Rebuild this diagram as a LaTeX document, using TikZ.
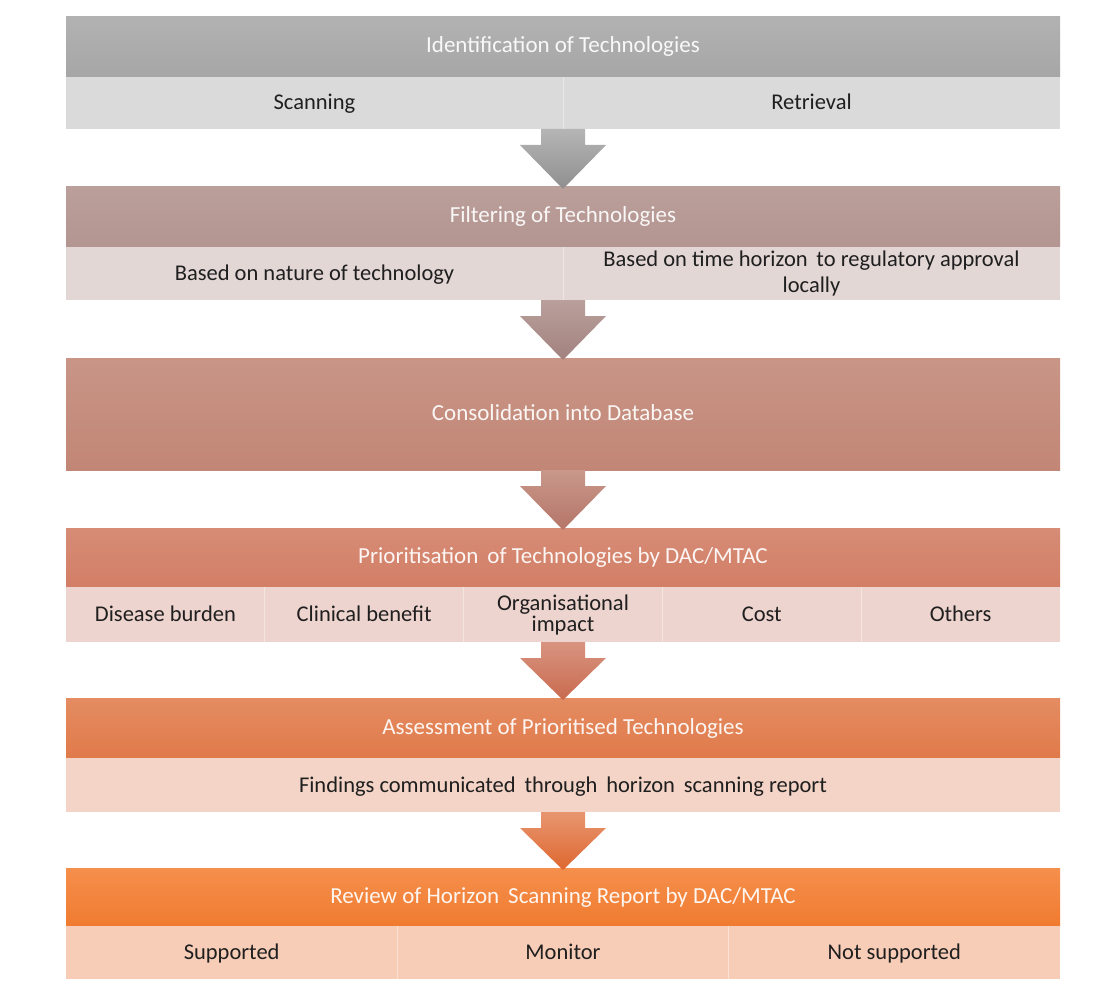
\documentclass[tikz,border=0pt]{standalone}
\usepackage{fontspec}
\setmainfont{Carlito}
\usetikzlibrary{calc,backgrounds}

% stage colours: header top / header bottom / cell fill / arrow top / arrow bottom
\definecolor{h1t}{HTML}{B2B2B2}\definecolor{h1b}{HTML}{A6A6A6}\definecolor{c1}{HTML}{DADADA}
\definecolor{h2t}{HTML}{BB9F9B}\definecolor{h2b}{HTML}{B39591}\definecolor{c2}{HTML}{E3D7D5}
\definecolor{h3t}{HTML}{C89586}\definecolor{h3b}{HTML}{C28676}
\definecolor{h4t}{HTML}{D68C76}\definecolor{h4b}{HTML}{D37E66}\definecolor{c4}{HTML}{EED4CE}
\definecolor{h5t}{HTML}{E48C62}\definecolor{h5b}{HTML}{E07A4A}\definecolor{c5}{HTML}{F3D4C6}
\definecolor{h6t}{HTML}{F58F4C}\definecolor{h6b}{HTML}{F07B30}\definecolor{c6}{HTML}{F8CDB8}
\definecolor{a1t}{HTML}{B5B5B5}\definecolor{a1b}{HTML}{8F8F8F}
\definecolor{a2t}{HTML}{B9A09C}\definecolor{a2b}{HTML}{A2817D}
\definecolor{a3t}{HTML}{C8988B}\definecolor{a3b}{HTML}{B57567}
\definecolor{a4t}{HTML}{D89480}\definecolor{a4b}{HTML}{C96A4E}
\definecolor{a5t}{HTML}{E89670}\definecolor{a5b}{HTML}{DE672F}

\begin{document}
\begin{tikzpicture}[x=1pt,y=-1pt,
  panel/.style={anchor=north west, minimum width=994pt, minimum height=#1,
    inner sep=0pt, outer sep=0pt},
  hdr/.style n args={3}{anchor=north west, minimum width=994pt, minimum height=#1,
    inner sep=0pt, outer sep=0pt, top color=#2, bottom color=#3,
    text=white, text opacity=0.92, font=\fontsize{23}{26}\selectfont,
    text height=15pt, text depth=3pt},
  cell/.style n args={3}{anchor=north west, minimum width=#1, minimum height=#2,
    inner sep=0pt, outer sep=0pt, fill=#3, text=black!88,
    font=\fontsize{22.5}{26}\selectfont, align=center},
  oneline/.style={text height=16pt, text depth=2pt},
  divider/.style={draw=white, opacity=0.4, line width=0.8pt},
  flow/.style n args={2}{top color=#1, bottom color=#2},
]
\useasboundingbox (0,0) rectangle (1114,987);
\fill[white] (0,0) rectangle (1114,987);

% ---------- stage 1 ----------
\node[panel=112pt] (p1) at (66,17) {};
\node[hdr={60pt}{h1t}{h1b}] (p1h) at (p1.north west) {Identification of Technologies};
\node[cell={497pt}{52pt}{c1}, oneline] (p1a) at (p1h.south west) {Scanning};
\node[cell={497pt}{52pt}{c1}, oneline] (p1b) at (p1a.north east) {Retrieval};
\draw[divider] (p1a.north east) -- (p1a.south east);

% ---------- stage 2 ----------
\node[panel=113pt] (p2) at (66,187) {};
\node[hdr={60pt}{h2t}{h2b}] (p2h) at (p2.north west) {Filtering of Technologies};
\node[cell={497pt}{53pt}{c2}, oneline] (p2a) at (p2h.south west) {Based on nature of technology};
\node[cell={497pt}{53pt}{c2}] (p2b) at (p2a.north east)
  {Based on time horizon \,to regulatory approval\\locally};
\draw[divider] (p2a.north east) -- (p2a.south east);

% ---------- stage 3 ----------
\node[panel=112pt] (p3) at (66,358) {};
\node[hdr={112pt}{h3t}{h3b}] (p3h) at (p3.north west) {Consolidation into Database};

% ---------- stage 4 ----------
\node[panel=114pt] (p4) at (66,528) {};
\node[hdr={59pt}{h4t}{h4b}] (p4h) at (p4.north west) {Prioritisation \,of Technologies by DAC/MTAC};
\node[cell={198.8pt}{55pt}{c4}, oneline] (p4a) at (p4h.south west) {Disease burden};
\node[cell={198.8pt}{55pt}{c4}, oneline] (p4b) at (p4a.north east) {Clinical benefit};
\node[cell={198.8pt}{55pt}{c4}, font=\fontsize{22.5}{21}\selectfont] (p4c) at (p4b.north east) {Organisational\\impact};
\node[cell={198.8pt}{55pt}{c4}, oneline] (p4d) at (p4c.north east) {Cost};
\node[cell={198.8pt}{55pt}{c4}, oneline] (p4e) at (p4d.north east) {Others};
\foreach \c in {p4a,p4b,p4c,p4d}
  \draw[divider] (\c.north east) -- (\c.south east);

% ---------- stage 5 ----------
\node[panel=114pt] (p5) at (66,698) {};
\node[hdr={60pt}{h5t}{h5b}] (p5h) at (p5.north west) {Assessment of Prioritised Technologies};
\node[cell={994pt}{54pt}{c5}, oneline] (p5a) at (p5h.south west) {Findings communicated \,through \,horizon \,scanning report};

% ---------- stage 6 ----------
\node[panel=111pt] (p6) at (66,868) {};
\node[hdr={58pt}{h6t}{h6b}] (p6h) at (p6.north west) {Review of Horizon \,Scanning Report by DAC/MTAC};
\node[cell={331.33pt}{53pt}{c6}, oneline] (p6a) at (p6h.south west) {Supported};
\node[cell={331.33pt}{53pt}{c6}, oneline] (p6b) at (p6a.north east) {Monitor};
\node[cell={331.33pt}{53pt}{c6}, oneline] (p6c) at (p6b.north east) {Not supported};
\foreach \c in {p6a,p6b}
  \draw[divider] (\c.north east) -- (\c.south east);

% soft shadows under each stage
\begin{scope}[on background layer]
  \foreach \p in {p1,p2,p3,p4,p5,p6} {
    \fill[black, opacity=0.08] ($(\p.north west)+(1,4)$) rectangle ($(\p.south east)+(4,5)$);
    \fill[black, opacity=0.14] ($(\p.north west)+(0,2)$) rectangle ($(\p.south east)+(2.5,3)$);
  }
\end{scope}

% block arrows between the stages
\foreach \a/\b/\t/\u in {p1/p2/a1t/a1b, p2/p3/a2t/a2b, p3/p4/a3t/a3b, p4/p5/a4t/a4b, p5/p6/a5t/a5b} {
  \shade[flow={\t}{\u}]
    ($(\a.south)+(-22,0)$) -- ($(\a.south)+(22,0)$) -- ($(\a.south)+(22,16)$)
    -- ($(\a.south)+(43,16)$) -- ($(\b.north)+(0,2)$) -- ($(\a.south)+(-43,16)$)
    -- ($(\a.south)+(-22,16)$) -- cycle;
}
\end{tikzpicture}
\end{document}
